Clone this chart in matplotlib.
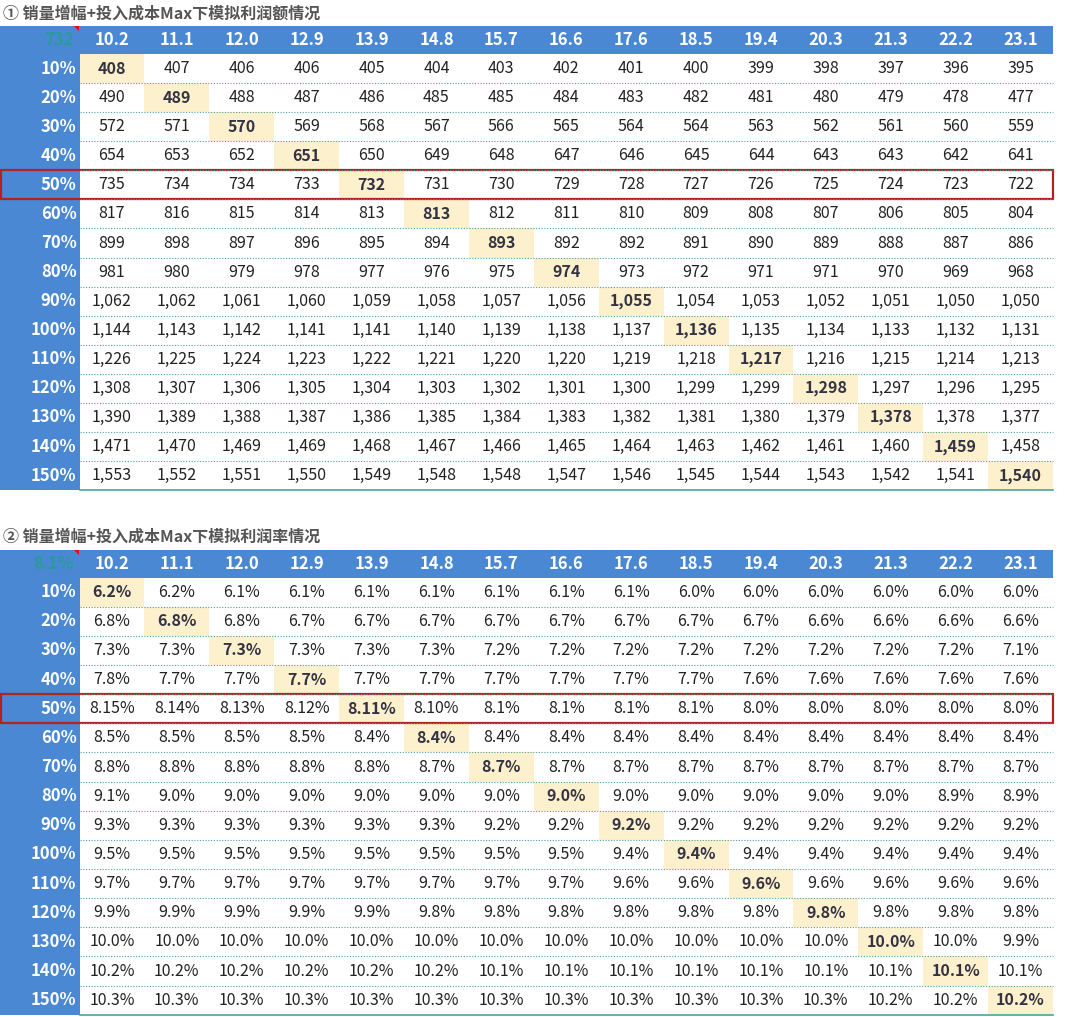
import matplotlib
matplotlib.use("Agg")
import matplotlib.pyplot as plt
from matplotlib.patches import Rectangle, Polygon

plt.rcParams['font.family'] = ['Noto Sans CJK SC', 'DejaVu Sans']

col_labels = ["10.2","11.1","12.0","12.9","13.9","14.8","15.7","16.6","17.6","18.5","19.4","20.3","21.3","22.2","23.1"]
row_labels = ["10%","20%","30%","40%","50%","60%","70%","80%","90%","100%","110%","120%","130%","140%","150%"]

profit = [
 [408,407,406,406,405,404,403,402,401,400,399,398,397,396,395],
 [490,489,488,487,486,485,485,484,483,482,481,480,479,478,477],
 [572,571,570,569,568,567,566,565,564,564,563,562,561,560,559],
 [654,653,652,651,650,649,648,647,646,645,644,643,643,642,641],
 [735,734,734,733,732,731,730,729,728,727,726,725,724,723,722],
 [817,816,815,814,813,813,812,811,810,809,808,807,806,805,804],
 [899,898,897,896,895,894,893,892,892,891,890,889,888,887,886],
 [981,980,979,978,977,976,975,974,973,972,971,971,970,969,968],
 [1062,1062,1061,1060,1059,1058,1057,1056,1055,1054,1053,1052,1051,1050,1050],
 [1144,1143,1142,1141,1141,1140,1139,1138,1137,1136,1135,1134,1133,1132,1131],
 [1226,1225,1224,1223,1222,1221,1220,1220,1219,1218,1217,1216,1215,1214,1213],
 [1308,1307,1306,1305,1304,1303,1302,1301,1300,1299,1299,1298,1297,1296,1295],
 [1390,1389,1388,1387,1386,1385,1384,1383,1382,1381,1380,1379,1378,1378,1377],
 [1471,1470,1469,1469,1468,1467,1466,1465,1464,1463,1462,1461,1460,1459,1458],
 [1553,1552,1551,1550,1549,1548,1548,1547,1546,1545,1544,1543,1542,1541,1540],
]

rate = [
 ["6.2%","6.2%","6.1%","6.1%","6.1%","6.1%","6.1%","6.1%","6.1%","6.0%","6.0%","6.0%","6.0%","6.0%","6.0%"],
 ["6.8%","6.8%","6.8%","6.7%","6.7%","6.7%","6.7%","6.7%","6.7%","6.7%","6.7%","6.6%","6.6%","6.6%","6.6%"],
 ["7.3%","7.3%","7.3%","7.3%","7.3%","7.3%","7.2%","7.2%","7.2%","7.2%","7.2%","7.2%","7.2%","7.2%","7.1%"],
 ["7.8%","7.7%","7.7%","7.7%","7.7%","7.7%","7.7%","7.7%","7.7%","7.7%","7.6%","7.6%","7.6%","7.6%","7.6%"],
 ["8.15%","8.14%","8.13%","8.12%","8.11%","8.10%","8.1%","8.1%","8.1%","8.1%","8.0%","8.0%","8.0%","8.0%","8.0%"],
 ["8.5%","8.5%","8.5%","8.5%","8.4%","8.4%","8.4%","8.4%","8.4%","8.4%","8.4%","8.4%","8.4%","8.4%","8.4%"],
 ["8.8%","8.8%","8.8%","8.8%","8.8%","8.7%","8.7%","8.7%","8.7%","8.7%","8.7%","8.7%","8.7%","8.7%","8.7%"],
 ["9.1%","9.0%","9.0%","9.0%","9.0%","9.0%","9.0%","9.0%","9.0%","9.0%","9.0%","9.0%","9.0%","8.9%","8.9%"],
 ["9.3%","9.3%","9.3%","9.3%","9.3%","9.3%","9.2%","9.2%","9.2%","9.2%","9.2%","9.2%","9.2%","9.2%","9.2%"],
 ["9.5%","9.5%","9.5%","9.5%","9.5%","9.5%","9.5%","9.5%","9.4%","9.4%","9.4%","9.4%","9.4%","9.4%","9.4%"],
 ["9.7%","9.7%","9.7%","9.7%","9.7%","9.7%","9.7%","9.7%","9.6%","9.6%","9.6%","9.6%","9.6%","9.6%","9.6%"],
 ["9.9%","9.9%","9.9%","9.9%","9.9%","9.8%","9.8%","9.8%","9.8%","9.8%","9.8%","9.8%","9.8%","9.8%","9.8%"],
 ["10.0%","10.0%","10.0%","10.0%","10.0%","10.0%","10.0%","10.0%","10.0%","10.0%","10.0%","10.0%","10.0%","10.0%","9.9%"],
 ["10.2%","10.2%","10.2%","10.2%","10.2%","10.2%","10.1%","10.1%","10.1%","10.1%","10.1%","10.1%","10.1%","10.1%","10.1%"],
 ["10.3%","10.3%","10.3%","10.3%","10.3%","10.3%","10.3%","10.3%","10.3%","10.3%","10.3%","10.3%","10.2%","10.2%","10.2%"],
]

titles = ["① 销量增幅+投入成本Max下模拟利润额情况", "② 销量增幅+投入成本Max下模拟利润率情况"]
corner = ["732", "8.1%"]

W, H = 1080, 1017
fig = plt.figure(figsize=(W/100, H/100), dpi=100)
ax = fig.add_axes([0, 0, 1, 1])
ax.set_xlim(0, W); ax.set_ylim(H, 0); ax.axis('off')

BLUE = "#4a88d4"
HIL = "#fdf0cc"
left_w = 79.5
col_w = 64.9
right = left_w + col_w * 15

def draw_table(title, corner_txt, cells, title_y, head_top, step):
    ax.text(3, title_y, title, fontsize=11.5, fontweight='bold', color='#555555', va='center', ha='left')
    head_h = step - 1
    top_body = head_top + head_h
    ax.add_patch(Rectangle((0, head_top), right, head_h, color=BLUE, lw=0))
    ax.add_patch(Rectangle((0, head_top), left_w, head_h + step * 15, color=BLUE, lw=0))
    ax.text(left_w - 6, head_top + head_h/2, corner_txt, color='#2a9a9a', fontsize=12,
            fontweight='bold', ha='right', va='center')
    ax.add_patch(Polygon([[left_w - 6, head_top], [left_w - 1, head_top], [left_w - 1, head_top + 5]],
                         closed=True, color='red', lw=0))
    for j, c in enumerate(col_labels):
        ax.text(left_w + col_w*(j+0.5), head_top + head_h/2, c, color='white', fontsize=12,
                fontweight='bold', ha='center', va='center')
    for i, r in enumerate(row_labels):
        y0 = top_body + step*i
        yc = y0 + step/2
        ax.text(left_w - 3, yc, r, color='white', fontsize=12, fontweight='bold', ha='right', va='center')
        ax.add_patch(Rectangle((left_w + col_w*i, y0), col_w, step, color=HIL, lw=0))
        for j in range(15):
            v = cells[i][j]
            s = f"{v:,}" if isinstance(v, int) else v
            ax.text(left_w + col_w*(j+0.5), yc, s, fontsize=11.5, ha='center', va='center',
                    color='#222222' if i != j else '#333344', fontweight='bold' if i == j else 'normal')
        ls = '-' if i == 14 else (0, (1, 1.5))
        ax.plot([left_w, right], [y0 + step, y0 + step], color='#4aa3a3', lw=0.8 if i < 14 else 1.2, ls=ls)
    yb = top_body + step*4
    ax.add_patch(Rectangle((1, yb), right - 1, step, fill=False, ec='#b22222', lw=1.6))

draw_table(titles[0], corner[0], profit, 14, 26, 29.07)
draw_table(titles[1], corner[1], rate, 537, 549.5, 29.14)

fig.savefig("out.png", dpi=100)
